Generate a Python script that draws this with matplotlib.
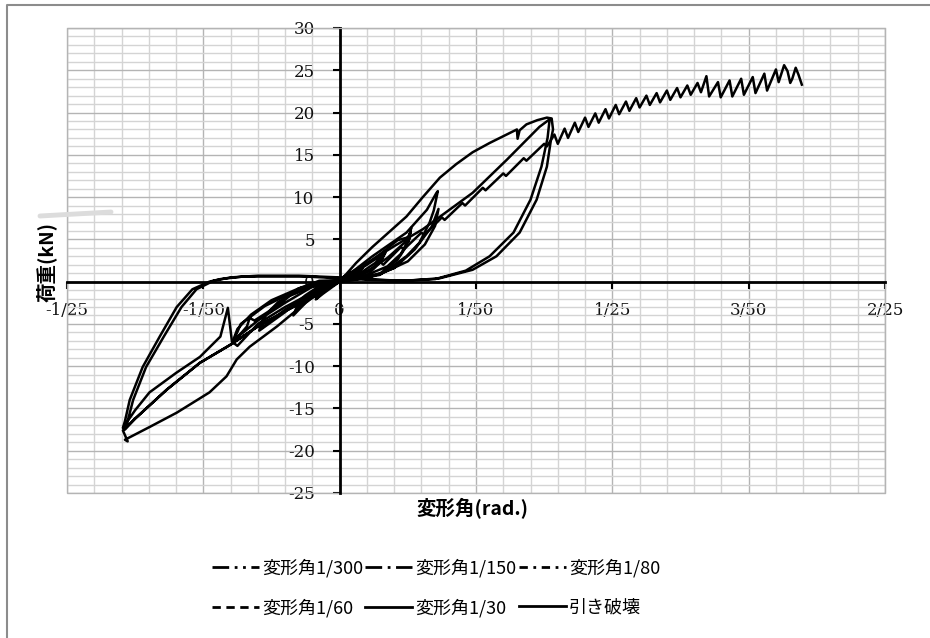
import matplotlib
matplotlib.use("Agg")
import matplotlib.pyplot as plt
from matplotlib.lines import Line2D
from matplotlib.patches import Rectangle
from matplotlib.ticker import MultipleLocator, FixedLocator

plt.rcParams["axes.unicode_minus"] = False

# 変形角(rad.) / 荷重(kN)
x_300 = [0, 0.0012, 0.0024, 0.0035, 0.0030, 0.0020, 0.0010, 0, -0.0012, -0.0024, -0.0035,
         -0.0030, -0.0020, -0.0010, 0, 0.0013, 0.0025, 0.0034, 0.0028, 0.0016, 0,
         -0.0013, -0.0025, -0.0034, -0.0027, -0.0014, 0]
y_300 = [0, 0.6, 1.2, 1.9, 1.2, 0.5, 0.2, 0, -0.7, -1.4, -2.1,
         -1.4, -0.6, -0.2, 0, 0.5, 1.1, 1.7, 1.0, 0.4, 0,
         -0.6, -1.3, -2.0, -1.2, -0.4, 0]

x_150 = [0, 0.002, 0.004, 0.0055, 0.0068, 0.0062, 0.005, 0.003, 0.001, -0.001, -0.003,
         -0.005, -0.0068, -0.0062, -0.005, -0.003, -0.001, 0, 0.003, 0.0052, 0.0067,
         0.0058, 0.004, 0.002, 0, -0.003, -0.0052, -0.0066, -0.0058, -0.004, -0.002, 0]
y_150 = [0, 1.0, 2.0, 2.8, 3.7, 2.6, 1.6, 0.8, 0.4, -0.3, -1.3,
         -2.5, -4.0, -2.8, -1.8, -0.9, -0.2, 0, 1.0, 2.2, 3.4,
         2.2, 1.1, 0.5, 0.1, -1.0, -2.3, -3.7, -2.4, -1.2, -0.4, 0]

x_80 = [0, 0.003, 0.006, 0.0085, 0.0103, 0.0101, 0.0105, 0.0100, 0.009, 0.007, 0.004, 0.001,
        -0.002, -0.005, -0.008, -0.0118, -0.0112, -0.009, -0.006, -0.003, 0,
        0.004, 0.007, 0.0095, 0.0104, 0.0098, 0.0085, 0.006, 0.003, 0,
        -0.004, -0.008, -0.0115, -0.0108, -0.008, -0.004, 0]
y_80 = [0, 1.5, 3.3, 4.9, 5.3, 4.7, 6.4, 4.8, 3.3, 1.8, 0.8, 0.4,
        0, -1.6, -3.6, -5.8, -4.2, -2.4, -1.0, -0.2, 0,
        1.2, 2.8, 4.6, 5.8, 4.2, 2.6, 1.0, 0.4, 0,
        -1.4, -3.3, -5.5, -3.9, -1.9, -0.6, 0]

x_60 = [0, 0.0048, 0.0098, 0.0128, 0.0142, 0.0144, 0.0138, 0.0132, 0.0117, 0.0098, 0.0059,
        0.002, -0.003, -0.006, -0.009, -0.0125, -0.0132, -0.0136, -0.0150, -0.0158,
        -0.0150, -0.013, -0.010, -0.006, -0.003, 0, 0.004, 0.008, 0.011, 0.0135, 0.0145,
        0.0140, 0.0125, 0.010, 0.006, 0.002, -0.004, -0.008, -0.012, -0.0155,
        -0.0145, -0.011, -0.007, -0.003, 0]
y_60 = [0, 3.0, 5.8, 8.5, 10.5, 10.7, 8.4, 7.0, 4.6, 3.0, 0.8,
        0.2, 0.1, -0.8, -2.8, -4.6, -4.3, -5.3, -6.6, -7.3,
        -5.6, -3.9, -2.2, -0.8, -0.2, 0, 0.4, 1.6, 3.8, 6.5, 8.6,
        6.6, 4.4, 2.4, 0.9, 0.3, -0.6, -2.5, -4.6, -6.9,
        -5.0, -2.9, -1.3, -0.3, 0]

x_30 = [0, -0.0044, -0.0092, -0.0132, -0.0151, -0.0166, -0.0191, -0.0239, -0.0279, -0.0315,
        -0.0311, -0.0318, -0.0300, -0.0254, -0.0205, -0.0161, -0.012, -0.008, -0.004, 0,
        0.0024, 0.0048, 0.0073, 0.0098, 0.0122, 0.0147, 0.0171, 0.0195, 0.022, 0.0245,
        0.026, 0.0261, 0.0264, 0.0274, 0.029, 0.0304, 0.0311,
        0.0313, 0.0310, 0.0304, 0.0289, 0.0264, 0.023, 0.0195, 0.0147, 0.0098, 0.005, 0,
        -0.005, -0.010, -0.0142, -0.0175, -0.0191, -0.0216, -0.0239, -0.0264, -0.0289,
        -0.0308, -0.0315, -0.0318,
        -0.0300, -0.0279, -0.0240, -0.0205, -0.0175, -0.0164, -0.0158, -0.0150, -0.012,
        -0.008, -0.004, 0,
        0.004, 0.008, 0.0122, 0.0195, 0.0245, 0.0293, 0.0308,
        0.0305, 0.0296, 0.0280, 0.0255, 0.022, 0.0185, 0.014, 0.009, 0.004, 0,
        -0.006, -0.012, -0.016, -0.0185, -0.021, -0.0232, -0.0258, -0.0284, -0.0303,
        -0.0312, -0.0315,
        -0.0300, -0.0254, -0.0205, -0.0161, -0.012, -0.008, -0.004, 0]
y_30 = [0, -2.1, -5.3, -7.7, -9.2, -11.2, -13.1, -15.5, -17.2, -18.7,
        -18.9, -17.6, -16.2, -12.8, -9.6, -7.5, -5.3, -3.5, -1.8, 0,
        2.2, 4.1, 5.9, 7.7, 10.0, 12.3, 13.9, 15.3, 16.4, 17.4,
        18.0, 16.9, 17.9, 18.6, 19.1, 19.4, 19.3,
        18.0, 16.8, 13.6, 9.7, 5.8, 3.0, 1.4, 0.4, 0.1, 0.2, 0.4,
        0.6, 0.6, 0.6, 0.3, 0, -0.9, -3.0, -6.5, -10.1,
        -14.0, -16.5, -17.3,
        -15.2, -13.1, -10.8, -8.9, -6.5, -3.1, -7.1, -7.6, -5.0,
        -3.0, -1.3, 0.3,
        2.2, 4.2, 6.2, 10.5, 14.4, 18.3, 19.2,
        17.0, 13.6, 9.7, 5.8, 3.0, 1.3, 0.3, 0.1, 0.3, 0.5,
        0.7, 0.7, 0.5, 0.1, -0.9, -3.0, -6.5, -10.1, -14.0,
        -16.8, -17.5,
        -16.2, -12.8, -9.6, -7.5, -5.3, -3.5, -1.8, 0]

x_pull = [0, 0.003, 0.0034, 0.006, 0.0064, 0.009, 0.0094, 0.012, 0.0124, 0.015, 0.0154,
          0.018, 0.0184, 0.021, 0.0214, 0.024, 0.0244, 0.027, 0.0274, 0.030, 0.0304,
          0.0315, 0.0320, 0.0330, 0.0335, 0.0345, 0.0350, 0.0360, 0.0365, 0.0375, 0.0380,
          0.0390, 0.0395, 0.0405, 0.0410, 0.0420, 0.0425, 0.0435, 0.0440, 0.0450, 0.0455,
          0.0465, 0.0470, 0.0480, 0.0485, 0.0495, 0.0500, 0.0510, 0.0515, 0.0525, 0.0530,
          0.0538, 0.0542, 0.0555, 0.0559, 0.0572, 0.0576, 0.0589, 0.0593, 0.0606, 0.0610,
          0.0623, 0.0627, 0.0640, 0.0644, 0.0652, 0.0657, 0.0661, 0.0664, 0.0669, 0.0673,
          0.0678]
y_pull = [0, 0.6, 0.3, 2.3, 2.0, 4.1, 3.8, 5.8, 5.5, 7.6, 7.3,
          9.3, 9.0, 11.1, 10.8, 12.8, 12.5, 14.6, 14.3, 16.3, 16.0,
          17.4, 16.3, 18.1, 17.0, 18.8, 17.7, 19.4, 18.3, 19.9, 18.8,
          20.4, 19.3, 20.9, 19.8, 21.3, 20.2, 21.7, 20.6, 22.0, 20.9,
          22.3, 21.2, 22.6, 21.5, 22.9, 21.8, 23.2, 22.1, 23.5, 22.4,
          24.3, 21.9, 23.6, 21.8, 23.8, 21.9, 24.0, 22.1, 24.2, 22.3,
          24.6, 22.6, 25.1, 23.6, 25.6, 24.9, 23.5, 24.0, 25.3, 24.5,
          23.3]

series = [
    ("変形角1/300", x_300, y_300, (0, (6, 2, 1, 2, 1, 2))),
    ("変形角1/150", x_150, y_150, (0, (6, 2, 1, 2))),
    ("変形角1/80", x_80, y_80, (0, (3, 2, 1, 2))),
    ("変形角1/60", x_60, y_60, (0, (3, 2))),
    ("変形角1/30", x_30, y_30, "-"),
    ("引き破壊", x_pull, y_pull, "-"),
]

x_ticks = [-0.04, -0.02, 0, 0.02, 0.04, 0.06, 0.08]
x_labels = ["-1/25", "-1/50", "0", "1/50", "1/25", "3/50", "2/25"]
y_ticks = [30, 25, 20, 15, 10, 5, 0, -5, -10, -15, -20, -25]

jp = ["Noto Sans CJK JP", "DejaVu Sans"]

fig = plt.figure(figsize=(9.3, 6.38), dpi=100)
ax = fig.add_axes([67 / 930, 1 - 493 / 638, 818 / 930, 465 / 638])

for name, xs, ys, ls in series:
    ax.plot(xs, ys, color="black", lw=1.8, zorder=3, solid_joinstyle="round")

ax.set_xlim(-0.04, 0.08)
ax.set_ylim(-25, 30)
ax.xaxis.set_major_locator(FixedLocator(x_ticks))
ax.xaxis.set_minor_locator(MultipleLocator(0.004))
ax.yaxis.set_major_locator(FixedLocator(y_ticks))
ax.yaxis.set_minor_locator(MultipleLocator(1))
ax.set_xticklabels(x_labels)
ax.set_yticklabels([str(v) for v in y_ticks])

ax.grid(which="minor", color="#d4d4d4", lw=1.0)
ax.grid(which="major", color="#b4b4b4", lw=1.0)
ax.set_axisbelow(True)

for side in ["top", "right"]:
    ax.spines[side].set_color("#b4b4b4")
ax.spines["left"].set_position(("data", 0))
ax.spines["bottom"].set_position(("data", 0))
ax.spines["left"].set_linewidth(2)
ax.spines["bottom"].set_linewidth(2)
ax.add_patch(Rectangle((0, 0), 1, 1, transform=ax.transAxes, fill=False,
                       edgecolor="#b4b4b4", lw=1, clip_on=False, zorder=1))

ax.tick_params(which="major", direction="out", length=5, width=1.5, color="black")
ax.tick_params(which="minor", length=0)
ax.tick_params(axis="x", pad=10)
ax.tick_params(axis="y", pad=13)
for lab in ax.get_xticklabels() + ax.get_yticklabels():
    lab.set_fontfamily("DejaVu Serif")
    lab.set_fontsize(12)
    lab.set_color("#111111")

fig.text(472 / 930, 1 - 509 / 638, "変形角(rad.)", family=jp, fontsize=14,
         fontweight="bold", ha="center", va="center")
fig.text(46 / 930, 1 - 262 / 638, "荷重(kN)", family=jp, fontsize=14,
         fontweight="bold", ha="center", va="center", rotation=90)

# smudge near the y label and the outer frame of the picture
fig.add_artist(Line2D([40 / 930, 111 / 930], [1 - 216 / 638, 1 - 212 / 638],
                      color="#dcdcdc", lw=3.5, solid_capstyle="round"))
fig.add_artist(Line2D([7 / 930, 7 / 930, 1.0], [0.0, 1 - 5 / 638, 1 - 5 / 638],
                      color="#8c8c8c", lw=1.5))

handles = [Line2D([], [], color="black", lw=2, ls=ls) for _, _, _, ls in series]
labels = [s[0] for s in series]
order = [0, 3, 1, 4, 2, 5]
fig.legend([handles[i] for i in order], [labels[i] for i in order], ncol=3,
           loc="center", bbox_to_anchor=(436 / 930, 1 - 588 / 638), frameon=False,
           prop={"family": "Noto Sans CJK JP", "size": 13}, handlelength=2.6,
           handletextpad=0.2, columnspacing=0.1, labelspacing=1.15, borderpad=0)

fig.savefig("out.png", dpi=100)
